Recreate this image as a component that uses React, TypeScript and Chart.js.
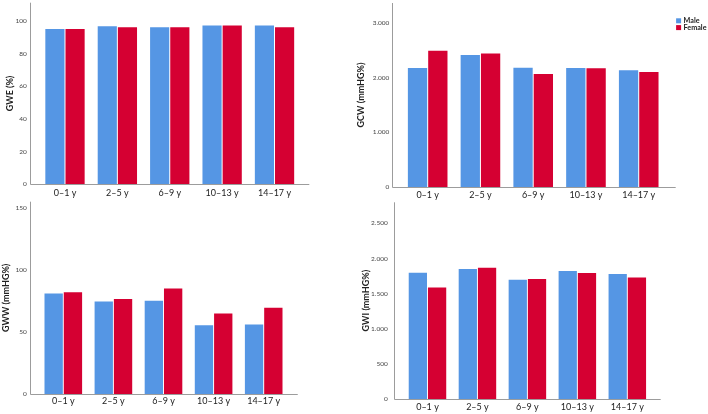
import React, { useEffect, useRef } from 'react';
import { Chart, registerables } from 'chart.js';

Chart.register(...registerables);

// ---------- data ----------
const categories = ['0–1 y', '2–5 y', '6–9 y', '10–13 y', '14–17 y'];
const seriesNames = ['Male', 'Female'];

const gweMale = [95, 96.6, 96, 97, 97];
const gweFemale = [95, 96, 96, 97, 96];
const gweTicks = [0, 20, 40, 60, 80, 100];
const gweMax = 111;

const gcwMale = [2173, 2410, 2179, 2173, 2131];
const gcwFemale = [2488, 2440, 2064, 2167, 2100];
const gcwTicks = [0, 1000, 2000, 3000];
const gcwMax = 3360;

const gwwMale = [81, 74.6, 75.1, 55.5, 56];
const gwwFemale = [82.1, 76.5, 85, 64.9, 69.5];
const gwwTicks = [0, 50, 100, 150];
const gwwMax = 155;

const gwiMale = [1796, 1849, 1697, 1821, 1778];
const gwiFemale = [1588, 1868, 1707, 1792, 1731];
const gwiTicks = [0, 500, 1000, 1500, 2000, 2500];
const gwiMax = 2800;

// ---------- style ----------
const W = 708;
const H = 414;
const BLUE = '#5596E4';
const RED = '#D50032';
const FONT = 'Lato, "Open Sans", "DejaVu Sans", sans-serif';
const X_H = 20;
const TITLE_LH = 10.8;

const fmt = (v: number) => String(v).replace(/\B(?=(\d{3})+(?!\d))/g, '.');

type Panel = {
  title: string;
  male: number[];
  female: number[];
  ticks: number[];
  max: number;
  area: { l: number; r: number; t: number; b: number };
  axisPad: { l: number; r: number };
  titleX: number;
  tickPad: number;
  xPad: number;
  legend: boolean;
};

const panels: Panel[] = [
  {
    title: 'GWE (%)', male: gweMale, female: gweFemale, ticks: gweTicks, max: gweMax,
    area: { l: 38.8, r: 300.7, t: 2.7, b: 184.3 }, axisPad: { l: 8.8, r: 8.6 },
    titleX: 10.3, tickPad: 12, xPad: 3, legend: false,
  },
  {
    title: 'GCW (mmHG%)', male: gcwMale, female: gcwFemale, ticks: gcwTicks, max: gcwMax,
    area: { l: 401.3, r: 665.1, t: 3, b: 187 }, axisPad: { l: 9.6, r: 10.6 },
    titleX: 361, tickPad: 12, xPad: 3, legend: true,
  },
  {
    title: 'GWW (mmHG%)', male: gwwMale, female: gwwFemale, ticks: gwwTicks, max: gwwMax,
    area: { l: 38.25, r: 288.75, t: 201.7, b: 394 }, axisPad: { l: 8.25, r: 9 },
    titleX: 6.3, tickPad: 11.5, xPad: 2, legend: false,
  },
  {
    title: 'GWI (mmHG%)', male: gwiMale, female: gwiFemale, ticks: gwiTicks, max: gwiMax,
    area: { l: 402.5, r: 652.3, t: 202.3, b: 399 }, axisPad: { l: 8.9, r: 8.4 },
    titleX: 366.3, tickPad: 14.8, xPad: 2.5, legend: false,
  },
];

const axisLinesPlugin = {
  id: 'axisLines',
  afterDatasetsDraw(chart: any, _args: any, opts: any) {
    const { ctx, chartArea } = chart;
    const x0 = Math.round(chartArea.left - opts.padL) + 0.5;
    const x1 = chartArea.right + opts.padR;
    const yb = Math.round(chartArea.bottom) + 0.5;
    ctx.save();
    ctx.strokeStyle = '#9c9c9c';
    ctx.lineWidth = 1;
    ctx.beginPath();
    ctx.moveTo(x0, chartArea.top);
    ctx.lineTo(x0, yb);
    ctx.lineTo(x1, yb);
    ctx.stroke();
    ctx.restore();
  },
};

const miniLegendPlugin = {
  id: 'miniLegend',
  afterDraw(chart: any, _args: any, opts: any) {
    if (!opts || !opts.display) return;
    const { ctx, chartArea } = chart;
    const x = chartArea.right + 11;
    ctx.save();
    ctx.font = `bold 7.2px ${FONT}`;
    ctx.textBaseline = 'middle';
    ctx.textAlign = 'left';
    chart.data.datasets.forEach((ds: any, i: number) => {
      const y = chartArea.top + 15.3 + i * 6.8;
      ctx.fillStyle = ds.backgroundColor;
      ctx.fillRect(x, y, 5, 5);
      ctx.fillStyle = '#222';
      ctx.fillText(ds.label, x + 7.5, y + 2.8);
    });
    ctx.restore();
  },
};

function PanelChart({ p }: { p: Panel }) {
  const ref = useRef<HTMLCanvasElement | null>(null);
  useEffect(() => {
    if (!ref.current) return;
    const padL = p.titleX - TITLE_LH / 2;
    const chart = new Chart(ref.current, {
      type: 'bar',
      data: {
        labels: categories,
        datasets: [
          { label: seriesNames[0], data: p.male, backgroundColor: BLUE, barPercentage: 0.95, categoryPercentage: 0.77 },
          { label: seriesNames[1], data: p.female, backgroundColor: RED, barPercentage: 0.95, categoryPercentage: 0.77 },
        ],
      },
      options: {
        responsive: false,
        animation: false,
        devicePixelRatio: 1,
        events: [],
        layout: {
          padding: {
            left: padL,
            right: W - p.area.r,
            top: p.area.t,
            bottom: H - p.area.b - X_H,
          },
        },
        plugins: {
          legend: { display: false },
          tooltip: { enabled: false },
          axisLines: { padL: p.axisPad.l, padR: p.axisPad.r },
          miniLegend: { display: p.legend },
        } as any,
        scales: {
          x: {
            type: 'category',
            offset: true,
            grid: { display: false, drawTicks: false },
            border: { display: false },
            ticks: {
              font: { family: FONT, size: 9 },
              color: '#222',
              padding: p.xPad,
              maxRotation: 0,
              autoSkip: false,
            },
            afterFit: (s: any) => {
              s.height = X_H;
              s.paddingLeft = 0;
              s.paddingRight = 0;
            },
          },
          y: {
            type: 'linear',
            min: 0,
            max: p.max,
            grid: { display: false, drawTicks: false },
            border: { display: false },
            ticks: {
              font: { family: FONT, size: 6.5 },
              color: '#444',
              padding: p.tickPad,
              callback: (v: any) => fmt(Number(v)),
            },
            afterBuildTicks: (s: any) => {
              s.ticks = p.ticks.map((v) => ({ value: v }));
            },
            afterFit: (s: any) => {
              s.width = p.area.l - padL;
              s.paddingTop = 0;
              s.paddingBottom = 0;
            },
            title: {
              display: true,
              text: p.title,
              font: { family: FONT, size: 9, weight: 'bold' },
              color: '#222',
              padding: { top: 0, bottom: 0 },
            },
          },
        },
      } as any,
      plugins: [axisLinesPlugin, miniLegendPlugin],
    });
    return () => chart.destroy();
  }, [p]);
  return (
    <canvas
      ref={ref}
      width={W}
      height={H}
      style={{ position: 'absolute', left: 0, top: 0, width: W, height: H }}
    />
  );
}

export default function App() {
  return (
    <div style={{ position: 'absolute', left: 0, top: 0, width: W, height: H, background: '#fff', overflow: 'hidden' }}>
      {panels.map((p, i) => (
        <PanelChart key={i} p={p} />
      ))}
    </div>
  );
}
